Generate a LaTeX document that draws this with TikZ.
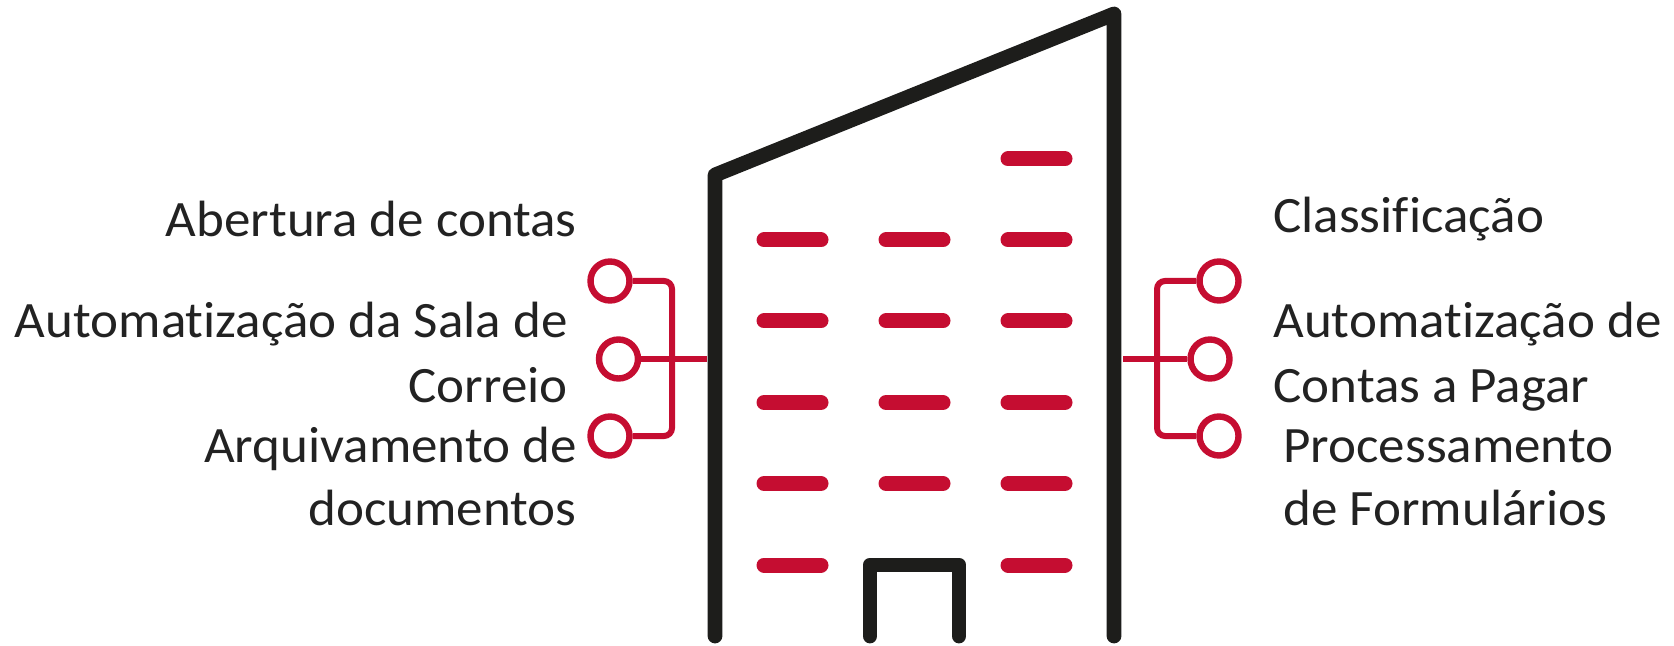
\documentclass[tikz,border=0pt]{standalone}
\usepackage{fontspec}
\setmainfont{Carlito}[Ligatures=NoCommon,FakeStretch=1.04]
\definecolor{brandred}{HTML}{C50D31}
\definecolor{walldark}{HTML}{1D1D1B}
\definecolor{textdark}{HTML}{222222}
\tikzset{
  wall/.style={draw=walldark,line width=7.4pt,line cap=round,line join=round},
  windowbar/.style={draw=brandred,line width=7.5pt,line cap=round},
  ring/.style={circle,draw=brandred,line width=3.2pt,fill=white,minimum size=19.5pt,inner sep=0pt},
  wire/.style={draw=brandred,line width=3pt},
  label/.style={text=textdark,inner sep=0pt,font=\fontsize{25.5pt}{32pt}\selectfont},
}
\begin{document}
\begin{tikzpicture}[x=0.5pt,y=-0.5pt]
\useasboundingbox (0,0) rectangle (1674,646);
% building
\draw[wall] (715,636) -- (715,175) -- (1114,14) -- (1114,636);
\draw[wall] (870,636) -- (870,565) -- (959,565) -- (959,636);
\foreach \y in {240,321,402.5,483.5}
  \foreach \x in {764,886,1008}
    \draw[windowbar] (\x,\y) -- ++(57,0);
\draw[windowbar] (1008,159) -- ++(57,0);
\draw[windowbar] (764,565) -- ++(57,0);
\draw[windowbar] (1008,565) -- ++(57,0);
% connectors
\coordinate (lbus) at (672,359);
\coordinate (lstub) at (707,359);
\coordinate (rbus) at (1157,359);
\coordinate (rstub) at (1123,359);
\node[ring] (lt) at (610,281) {};
\node[ring] (lm) at (618.5,359) {};
\node[ring] (lb) at (610,436) {};
\node[ring] (rt) at (1219,281) {};
\node[ring] (rm) at (1210,359) {};
\node[ring] (rb) at (1219,436) {};
\draw[wire,rounded corners=4pt] (lt.east) -| (lbus) |- (lb.east);
\draw[wire] (lm.east) -- (lstub);
\draw[wire,rounded corners=4pt] (rt.west) -| (rbus) |- (rb.west);
\draw[wire] (rstub) -- (rm.west);
% labels
\node[label,anchor=base east] (t1) at (577,237) {Abertura de contas};
\node[label,anchor=base east] (t2a) at (568,338) {Automatização da Sala de};
\node[label,anchor=base east] (t2b) at (568,402) {Correio};
\node[label,anchor=base east] (t3a) at (577,462) {Arquivamento de};
\node[label,anchor=base east] (t3b) at (577,525) {documentos};
\node[label,anchor=base west] (t4) at (1273,233) {Classificação};
\node[label,anchor=base west] (t5a) at (1273,338) {Automatização de};
\node[label,anchor=base west] (t5b) at (1273,402) {Contas a Pagar};
\node[label,anchor=base west] (t6a) at (1283,462) {Processamento};
\node[label,anchor=base west] (t6b) at (1283,525) {de Formulários};
\end{tikzpicture}
\end{document}
